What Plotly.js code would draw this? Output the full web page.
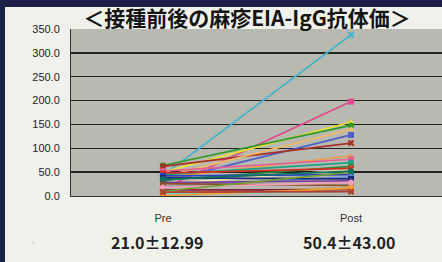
<!DOCTYPE html>
<html>
<head>
<meta charset="utf-8">
<script src="https://cdn.plot.ly/plotly-3.0.1.min.js"></script>
<style>
  html, body { margin: 0; padding: 0; background: #f1f1ec; width: 442px; height: 262px; overflow: hidden; }
  #chart { position: absolute; left: 0; top: 0; width: 442px; height: 262px; }
</style>
</head>
<body>
<div id="chart"></div>
<script>
// ---- data ----
const categories = ['Pre', 'Post'];
const preValues  = [43, 15, 50, 64, 30, 62, 40, 38, 52, 45, 33, 25, 48, 42, 20, 38, 28, 22, 26, 6, 13, 4, 1, 18, 10, 35, 8];
const postValues = [338, 198, 155, 148, 128, 111, 140, 84, 77, 70, 62, 55, 58, 45, 40, 36, 32, 24, 22, 18, 13, 10, 16, 28, 50, 52, 9];
const statLabels = ['21.0±12.99', '50.4±43.00'];
const yTickVals = [0, 50, 100, 150, 200, 250, 300, 350];

// ---- styles ----
const colors  = ['#4ab4cc','#e04a8c','#f0e030','#2e9a2a','#5060c8','#a8302a','#f4b860','#e8a050','#e66094','#20a088',
                 '#2a8a3c','#f8f0b0','#d03020','#2a44c0','#7090e0','#1a2a7a','#7a3a9a','#a0a0a0','#8a5028','#c8a070',
                 '#8a2040','#70d0e0','#f0a030','#f0a0b8','#70a030','#107060','#b04030'];
const symbols = ['x','square','triangle-up','circle','square','x','triangle-up','triangle-up','square','circle',
                 'circle','diamond','x','square','circle','square','triangle-up','circle','square','triangle-up',
                 'square','x','square','circle','triangle-up','circle','x'];

const W = 442, H = 262, ML = 71, MR = 0, MT = 29, MB = 66;
const PW = W - ML - MR, PH = H - MT - MB;
const px2x = v => (v - ML) / PW;          // page px -> paper x
const px2y = v => (H - MB - v) / PH;      // page px -> paper y

const traces = preValues.map((p, i) => ({
  type: 'scatter',
  mode: 'lines+markers',
  x: [0, 1],
  y: [p, postValues[i]],
  line: { color: colors[i], width: 1.7 },
  marker: { color: colors[i], symbol: symbols[i], size: 6 },
  hoverinfo: 'skip',
  showlegend: false
}));

const navy = '#1b2146';
const layout = {
  width: W, height: H,
  margin: { l: ML, r: MR, t: MT, b: MB, pad: 0 },
  paper_bgcolor: '#f1f1ec',
  plot_bgcolor: '#b8b9b1',
  title: {
    text: '＜接種前後の麻疹EIA-IgG抗体価＞',
    font: { family: 'Noto Sans CJK JP', size: 21, color: '#151515', weight: 'bold' },
    x: 247 / W, xanchor: 'center', xref: 'container',
    y: 1 - 19 / H, yanchor: 'middle', yref: 'container'
  },
  xaxis: {
    range: [-0.489, 1.484],
    tickvals: [0, 1],
    ticktext: categories,
    showgrid: false, zeroline: false,
    showline: true, linecolor: '#333', linewidth: 1,
    ticks: '', ticklabelstandoff: 12,
    tickfont: { family: 'Liberation Sans, Arial', size: 11, color: '#333' },
    fixedrange: true
  },
  yaxis: {
    range: [0, 350],
    tickvals: yTickVals,
    tickformat: '.1f',
    showgrid: true, gridcolor: '#222', gridwidth: 1.5,
    zeroline: false,
    showline: true, linecolor: '#333', linewidth: 1,
    ticks: '', ticklabelstandoff: 8,
    tickfont: { family: 'Liberation Sans, Arial', size: 11, color: '#222' },
    fixedrange: true
  },
  shapes: [
    { type: 'rect', xref: 'paper', yref: 'paper', layer: 'below',
      x0: px2x(0), x1: px2x(5), y0: px2y(H), y1: px2y(0),
      fillcolor: navy, line: { width: 0 } },
    { type: 'rect', xref: 'paper', yref: 'paper', layer: 'below',
      x0: px2x(0), x1: px2x(W), y0: px2y(7), y1: px2y(0),
      fillcolor: navy, line: { width: 0 } }
  ],
  annotations: [
    { xref: 'x', yref: 'paper', x: -0.03, y: px2y(242), text: statLabels[0], showarrow: false,
      xanchor: 'center', yanchor: 'middle',
      font: { family: 'Noto Sans CJK JP', size: 16, color: '#222', weight: 'bold' } },
    { xref: 'x', yref: 'paper', x: 0.99, y: px2y(242), text: statLabels[1], showarrow: false,
      xanchor: 'center', yanchor: 'middle',
      font: { family: 'Noto Sans CJK JP', size: 16, color: '#222', weight: 'bold' } },
    { xref: 'paper', yref: 'paper', x: px2x(33), y: px2y(242), text: '›', showarrow: false,
      xanchor: 'center', yanchor: 'middle',
      font: { family: 'DejaVu Sans', size: 10, color: '#c8c8c8' } }
  ]
};

Plotly.newPlot('chart', traces, layout, { displayModeBar: false, staticPlot: true });
</script>
</body>
</html>
